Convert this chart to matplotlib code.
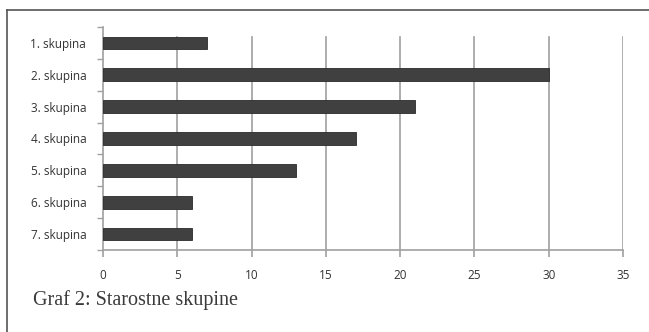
import matplotlib.pyplot as plt
from matplotlib.lines import Line2D
import numpy as np

groups = ["1. skupina", "2. skupina", "3. skupina", "4. skupina",
          "5. skupina", "6. skupina", "7. skupina"]
counts = [7, 30, 21, 17, 13, 6, 6]
xticks = [0, 5, 10, 15, 20, 25, 30, 35]

fig = plt.figure(figsize=(6.49, 3.32), dpi=100)
ax = fig.add_axes([103/649, 1 - 250/332, 520/649, 223/332])

pos = np.arange(len(groups))
ax.barh(pos, counts, height=0.4, color="#404040", edgecolor="#2a2a2a",
        linewidth=0.6, zorder=3)
ax.set_xlim(0, 35)
ax.set_ylim(len(groups) - 0.5, -0.5)

# grid lines (they stop a little under the top of the plot area)
for x in xticks[1:]:
    ax.axvline(x, ymin=0, ymax=0.955, color="#a0a0a0", lw=1.2, zorder=1)

ax.set_xticks(xticks)
ax.set_yticks(pos)
ax.set_yticklabels(groups)
ax.set_yticks(np.arange(len(groups) + 1) - 0.5, minor=True)

ax.tick_params(axis="y", which="major", length=0, pad=12, labelsize=8.5,
               labelcolor="#333333")
ax.tick_params(axis="y", which="minor", length=4, color="#a0a0a0", width=1)
ax.tick_params(axis="x", length=5, color="#a0a0a0", width=1.2, pad=9,
               labelsize=8.5, labelcolor="#333333")

for lab in ax.get_xticklabels() + ax.get_yticklabels():
    lab.set_family("Open Sans")

for s in ["top", "right"]:
    ax.spines[s].set_visible(False)
ax.spines["left"].set_color("#a0a0a0")
ax.spines["bottom"].set_color("#a0a0a0")
ax.spines["left"].set_linewidth(1.2)
ax.spines["bottom"].set_linewidth(1.2)

# frame lines of the scanned figure
fig.add_artist(Line2D([7/649, 1], [1 - 10/332, 1 - 10/332], color="#555555", lw=1.2))
fig.add_artist(Line2D([7/649, 7/649], [0, 1 - 10/332], color="#555555", lw=1.2))

fig.text(33/649, 1 - 300/332, "Graf 2: Starostne skupine", family="Liberation Serif",
         fontsize=14.5, color="#3a3a3a", va="center", ha="left")

plt.savefig("out.png", dpi=100)
